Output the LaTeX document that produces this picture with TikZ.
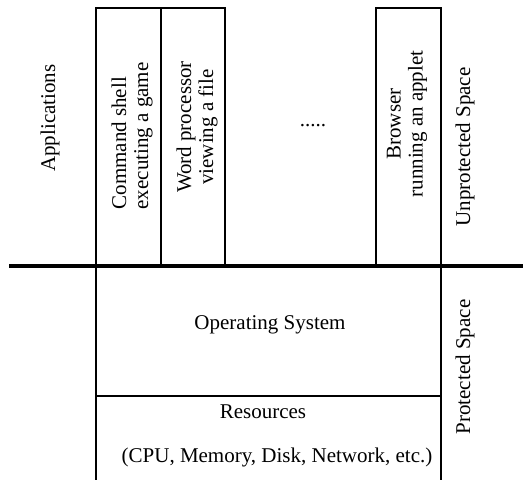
\documentclass[tikz,border=0pt]{standalone}
\usepackage{fontspec}
\setmainfont{Liberation Serif}
\usepackage{tikz}

\begin{document}
\begin{tikzpicture}[x=1pt,y=-1pt,
    txt/.style={inner sep=0pt,font=\fontsize{21}{22}\selectfont},
    vtxt/.style={txt,rotate=90,align=center}]
        \useasboundingbox (0,0) rectangle (523,480);
        % application columns
        \draw[line width=1.5pt] (96,8) rectangle (161,266);
        \draw[line width=1.5pt] (161,8) rectangle (225,266);
        \draw[line width=1.5pt] (376,8) rectangle (441,266);
        % os and resources
        \draw[line width=1.5pt] (96,266) -- (96,482);
        \draw[line width=1.5pt] (441,266) -- (441,482);
        \draw[line width=1.5pt] (96,396) -- (441,396);
        % boundary between the spaces
        \draw[line width=4pt] (9,266) -- (523,266);
        \node[vtxt] (apps) at (50,118) {Applications};
        \node[vtxt,align=left] (shell) at (132,136) {Command shell\\executing a game};
        \node[vtxt] (word) at (197,127) {Word processor\\viewing a file};
        \node[txt] (dots) at (313,126) {.....};
        \node[vtxt] (browser) at (407,124) {Browser\\running an applet};
        \node[vtxt] (unprot) at (465,147) {Unprotected Space};
        \node[txt] (os) at (270,325) {Operating System};
        \node[txt] (res) at (263,412) {Resources};
        \node[txt] (cpu) at (277,457) {(CPU, Memory, Disk, Network, etc.)};
        \node[vtxt] (prot) at (465,367) {Protected Space};
      \end{tikzpicture}
\end{document}
